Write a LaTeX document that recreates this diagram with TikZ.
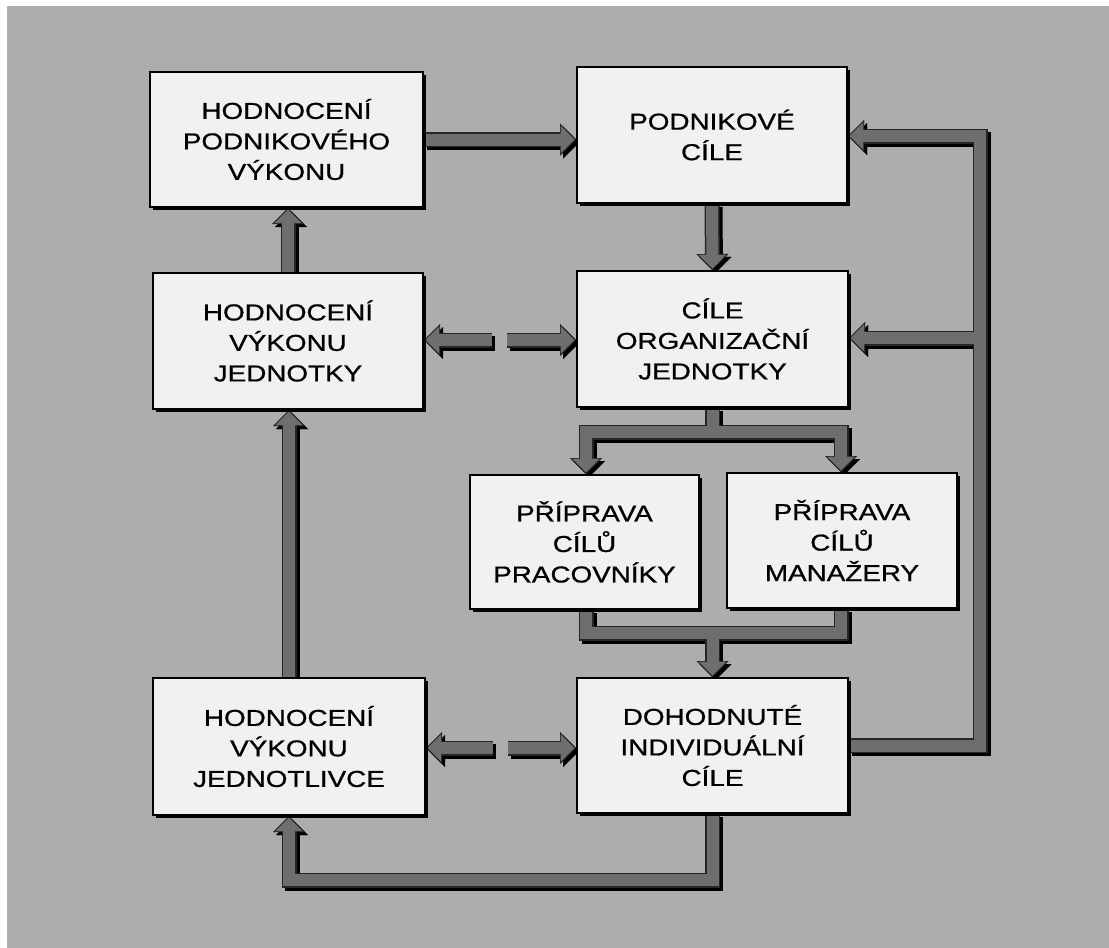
\documentclass[tikz,border=0pt]{standalone}
\usepackage{fontspec}
\newfontfamily\boxfont{Liberation Sans}[FakeStretch=1.21,FakeBold=0.9]
\usetikzlibrary{arrows.meta,shadows}
\pgfdeclarelayer{bg}\pgfdeclarelayer{shadowl}\pgfdeclarelayer{outl}\pgfdeclarelayer{front}
\pgfsetlayers{bg,shadowl,outl,main,front}
\definecolor{bggray}{HTML}{ADADAD}
\definecolor{boxfill}{HTML}{F1F1F1}
\definecolor{arrfill}{HTML}{6E6E6E}
\definecolor{arrline}{HTML}{262626}
\tikzset{
 box/.style={draw=black, line width=2pt, fill=boxfill, inner sep=0pt, align=center,
   font=\boxfont\fontsize{23}{30.5}\selectfont, text=black,
   drop shadow={shadow xshift=3pt, shadow yshift=-3pt, fill=black, opacity=1}},
 fatshadow/.style={draw=black, line width=15pt, line join=miter,
   >={Triangle[width=32pt,length=16pt,line width=0.01pt]},
   transform canvas={shift={(3pt,-3pt)}}},
 fatout/.style={draw=arrline, line width=15pt, line join=miter,
   >={Triangle[width=32pt,length=16pt,line width=0.01pt]}},
 fatfill/.style={draw=arrfill, line width=12pt, line join=miter,
   >={Triangle[width=27pt,length=13.5pt,line width=0.01pt]}},
}
\newcommand\fatarrow[1]{%
 \begin{pgfonlayer}{shadowl}\draw[fatshadow,->] #1;\end{pgfonlayer}%
 \begin{pgfonlayer}{outl}\draw[fatout,->] #1;\end{pgfonlayer}%
 \draw[fatfill,->,shorten >=1.6pt] #1;}
\newcommand\fatline[1]{%
 \begin{pgfonlayer}{shadowl}\draw[fatshadow] #1;\end{pgfonlayer}%
 \begin{pgfonlayer}{outl}\draw[fatout] #1;\end{pgfonlayer}%
 \draw[fatfill] #1;}
\begin{document}
\begin{tikzpicture}[x=1pt,y=-1pt]
\begin{pgfonlayer}{bg}
\fill[white] (0,0) rectangle (1109,948);
\fill[bggray] (7,6) rectangle (1109,948);
\end{pgfonlayer}
\useasboundingbox (0,0) rectangle (1109,948);

\begin{pgfonlayer}{front}
\node[box, minimum width=273pt, minimum height=135pt] (b1) at (286.5,139.5) {HODNOCENÍ\\PODNIKOVÉHO\\VÝKONU};
\node[box, minimum width=270pt, minimum height=136pt] (b2) at (712,135) {PODNIKOVÉ\\CÍLE};
\node[box, minimum width=270pt, minimum height=136pt] (b3) at (288,341) {HODNOCENÍ\\VÝKONU\\JEDNOTKY};
\node[box, minimum width=271pt, minimum height=136pt] (b4) at (712.5,339) {CÍLE\\ORGANIZAČNÍ\\JEDNOTKY};
\node[box, minimum width=229pt, minimum height=134pt] (b5) at (584.5,542) {PŘÍPRAVA\\CÍLŮ\\PRACOVNÍKY};
\node[box, minimum width=230pt, minimum height=135pt] (b6) at (842,540.5) {PŘÍPRAVA\\CÍLŮ\\MANAŽERY};
\node[box, minimum width=272pt, minimum height=137pt] (b7) at (289,746.5) {HODNOCENÍ\\VÝKONU\\JEDNOTLIVCE};
\node[box, minimum width=271pt, minimum height=135pt] (b8) at (712.5,745.5) {DOHODNUTÉ\\INDIVIDUÁLNÍ\\CÍLE};
\end{pgfonlayer}

% junction / free-end coordinates
\coordinate (d1) at (492,340);
\coordinate (d2) at (507,340);
\coordinate (e1) at (493,748);
\coordinate (e2) at (508,748);
\coordinate (sc) at (712.5,432);
\coordinate (sL) at (586,432);
\coordinate (sR) at (841,432);
\coordinate (mc) at (712.5,633);
\coordinate (mL) at (586,633);
\coordinate (mR) at (841,633);
\coordinate (rt) at (980,136);
\coordinate (rm) at (980,338);
\coordinate (br) at (712.5,880);
\coordinate (bl) at (289,880);

% top row
\fatarrow{(b1.east) -- (b1.east -| b2.west)}
\fatarrow{(b2.south) -- (b4.north)}
\fatarrow{(b3.north) -- (b3.north |- b1.south)}
% dashed pair between unit boxes
\fatarrow{(d1) -- (d1 -| b3.east)}
\fatarrow{(d2) -- (d2 -| b4.west)}
% split
\fatline{(b4.south) -- (sc)}
\fatarrow{(sR) -- (sL) -- (sL |- b5.north)}
\fatarrow{(sL) -- (sR) -- (sR |- b6.north)}
% merge
\fatline{(b6.south -| mR) -- (mR) -- (mL) -- (b5.south -| mL)}
\fatarrow{(mc) -- (b8.north)}
% dashed pair at bottom
\fatarrow{(e1) -- (e1 -| b7.east)}
\fatarrow{(e2) -- (e2 -| b8.west)}
% right feedback
\fatarrow{(b8.east) -- (b8.east -| rt) -- (rt) -- (rt -| b2.east)}
\fatarrow{(rm) -- (rm -| b4.east)}
% bottom loop
\fatarrow{(b8.south) -- (br) -- (bl) -- (b7.south)}
\fatarrow{(b7.north) -- (b7.north |- b3.south)}
\end{tikzpicture}
\end{document}
